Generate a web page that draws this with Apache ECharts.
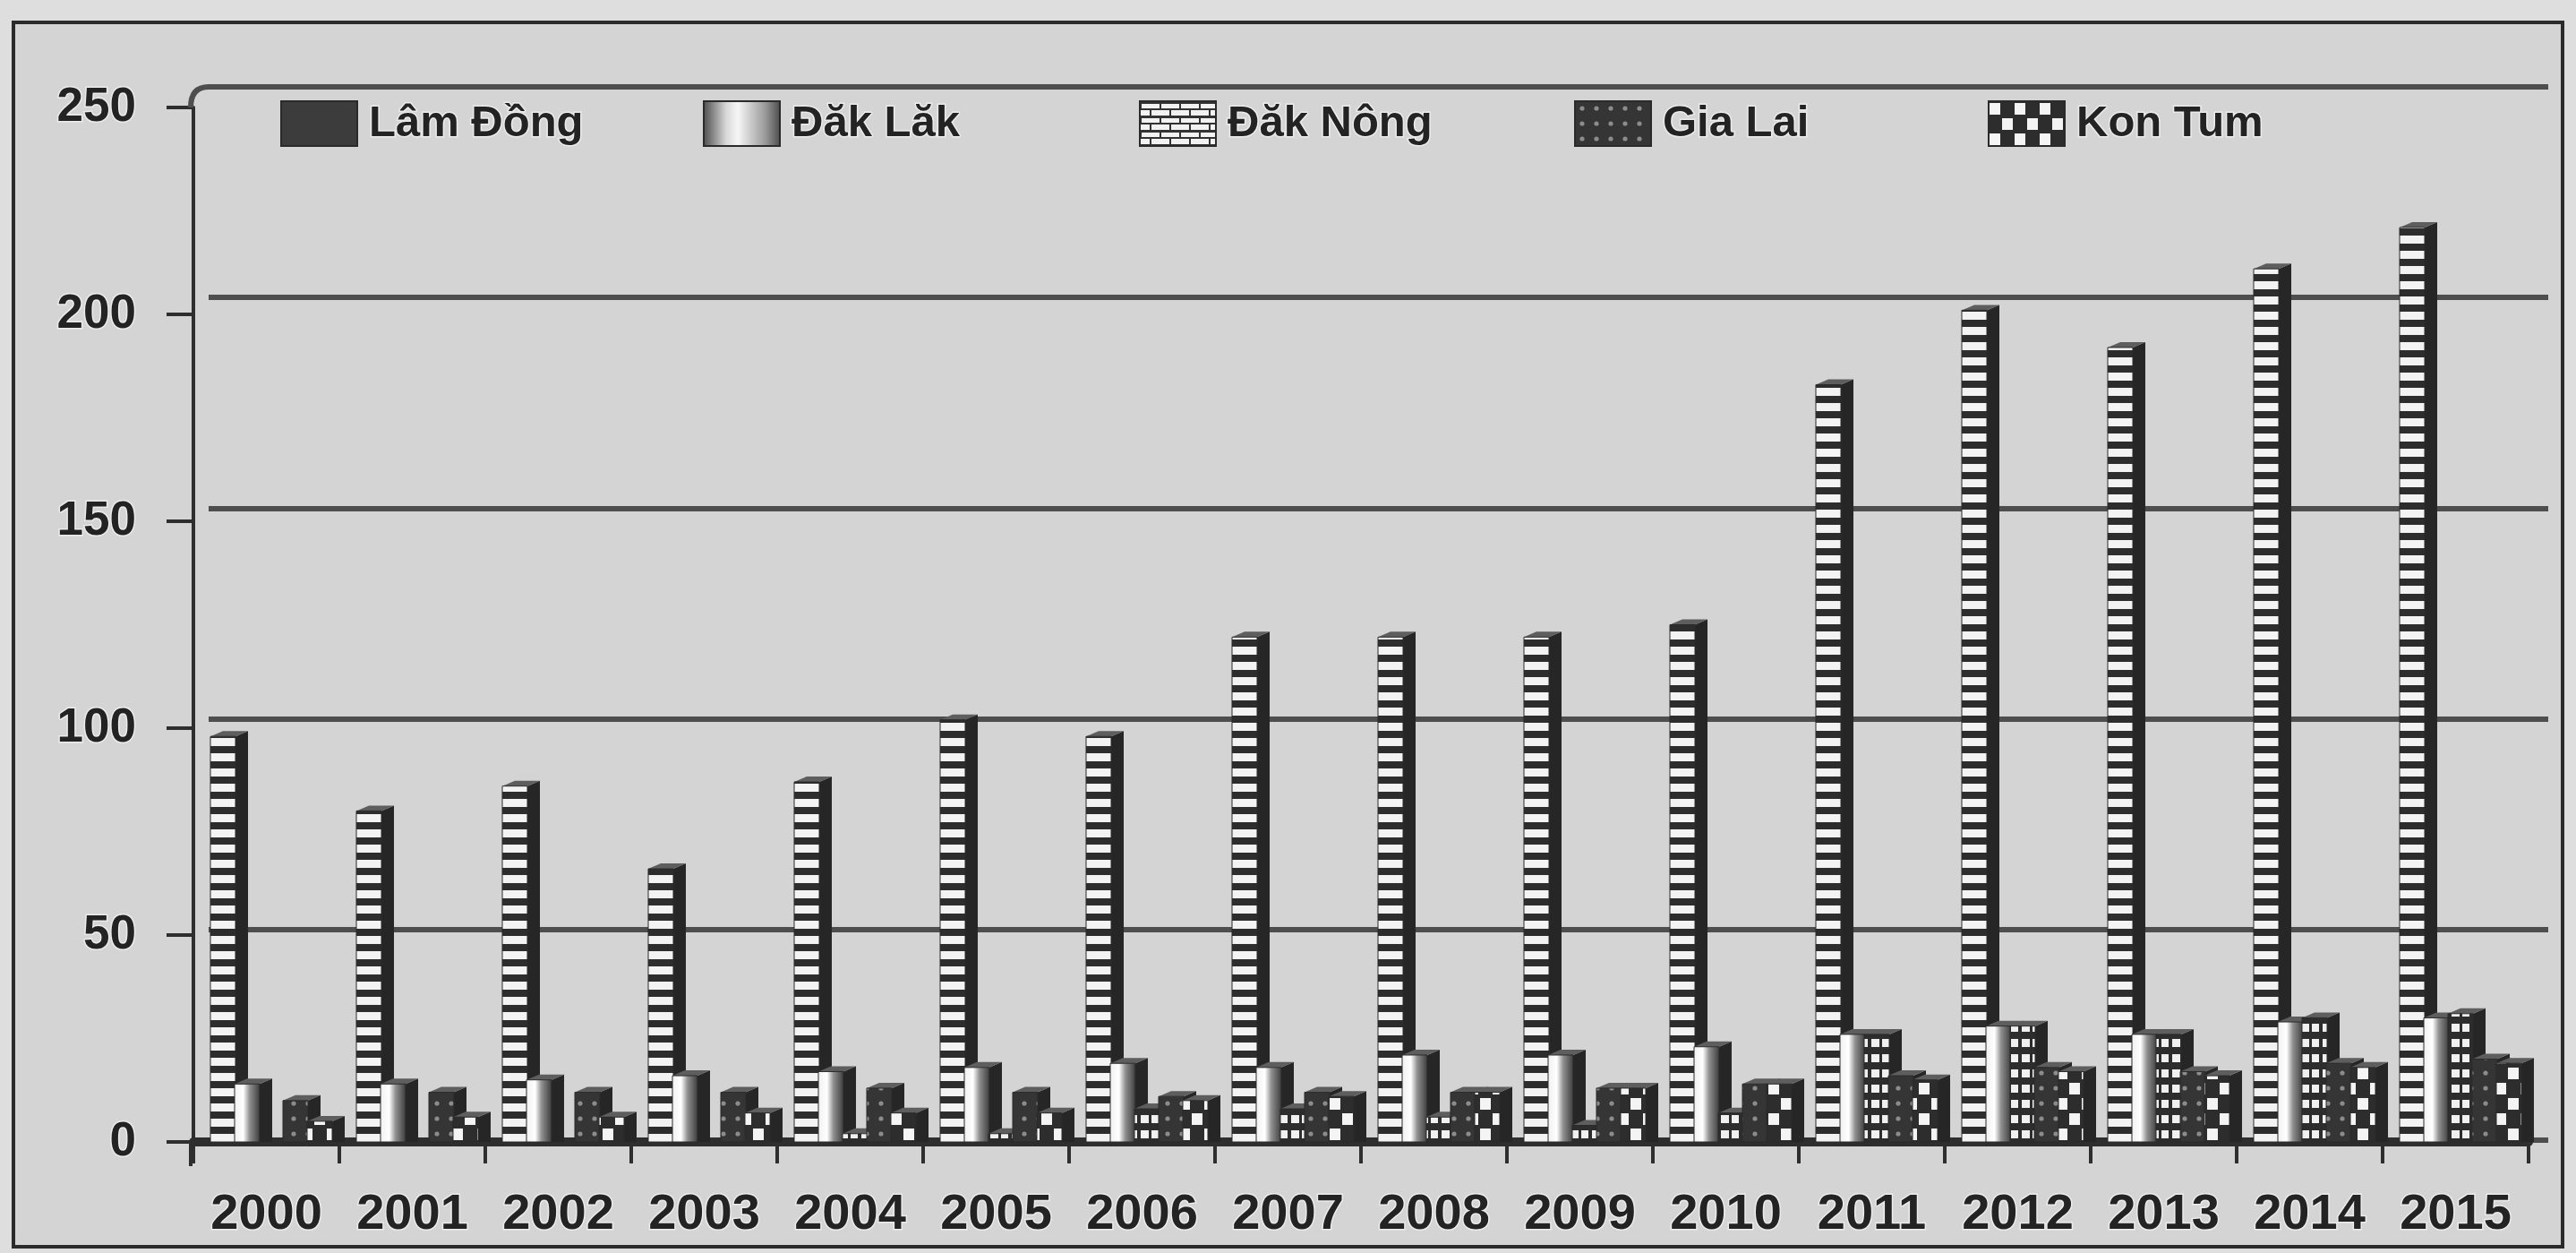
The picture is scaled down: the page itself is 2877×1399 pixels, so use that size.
<!DOCTYPE html>
<html>
<head>
<meta charset="utf-8">
<script src="https://cdn.jsdelivr.net/npm/echarts@6/dist/echarts.min.js"></script>
<style>
  html, body { margin: 0; padding: 0; background: #dedede; }
  #chart { width: 2877px; height: 1399px; }
</style>
</head>
<body>
<div id="chart"></div>
<script>
// Sản lượng theo tỉnh, Tây Nguyên 2000–2015
const years = ['2000', '2001', '2002', '2003', '2004', '2005', '2006', '2007',
               '2008', '2009', '2010', '2011', '2012', '2013', '2014', '2015'];
const seriesNames = ['Lâm Đồng', 'Đăk Lăk', 'Đăk Nông', 'Gia Lai', 'Kon Tum'];
const lamDong = [98, 80, 86, 66, 87, 102, 98, 122, 122, 122, 125, 183, 201, 192, 211, 221];
const dakLak  = [14, 14, 15, 16, 17, 18, 19, 18, 21, 21, 23, 26, 28, 26, 29, 30];
const dakNong = [0, 0, 0, 0, 2, 2, 8, 8, 6, 4, 7, 26, 28, 26, 30, 31];
const giaLai  = [10, 12, 12, 12, 13, 12, 11, 12, 12, 13, 14, 16, 18, 17, 19, 20];
const konTum  = [5, 6, 6, 7, 7, 7, 10, 11, 12, 13, 14, 15, 17, 16, 18, 19];
const yMin = 0, yMax = 250, yStep = 50;

const DARK = '#2d2d2d';
const FONT = "'Liberation Sans', Arial, sans-serif";

// Fill patterns drawn on small canvases
function makePattern(w, h, draw) {
  const c = document.createElement('canvas');
  c.width = w; c.height = h;
  draw(c.getContext('2d'), w, h);
  return { image: c, repeat: 'repeat' };
}
const stripes = makePattern(8, 17, (g) => {
  g.fillStyle = '#f3f3f3'; g.fillRect(0, 0, 8, 17);
  g.fillStyle = DARK; g.fillRect(0, 0, 8, 8);
});
const bricks = makePattern(24, 17, (g) => {
  g.fillStyle = DARK; g.fillRect(0, 0, 24, 17);
  g.fillStyle = '#f0f0f0';
  g.fillRect(2, 4, 9, 9); g.fillRect(14, 4, 8, 9);
});
const bricksLight = makePattern(22, 16, (g) => {
  g.fillStyle = '#f2f2f2'; g.fillRect(0, 0, 22, 16);
  g.fillStyle = '#333';
  g.fillRect(0, 0, 22, 3); g.fillRect(0, 8, 22, 2);
  g.fillRect(0, 0, 2, 8); g.fillRect(11, 8, 2, 8);
});
const dots = makePattern(16, 17, (g) => {
  g.fillStyle = '#353535'; g.fillRect(0, 0, 16, 17);
  g.fillStyle = '#8c8c8c';
  g.beginPath(); g.arc(8, 8, 2.6, 0, Math.PI * 2); g.fill();
});
const checker = makePattern(28, 34, (g) => {
  g.fillStyle = DARK; g.fillRect(0, 0, 28, 34);
  g.fillStyle = '#f4f4f4';
  g.fillRect(1, 2, 12, 13); g.fillRect(15, 19, 12, 13);
});
const dakLakFill = new echarts.graphic.LinearGradient(0, 0, 1, 0, [
  { offset: 0, color: '#f0f0f0' },
  { offset: 0.35, color: '#ffffff' },
  { offset: 0.6, color: '#8f8f8f' },
  { offset: 1, color: '#3a3a3a' }
]);
const dakLakLegend = new echarts.graphic.LinearGradient(0, 0, 1, 0, [
  { offset: 0, color: '#4a4a4a' },
  { offset: 0.3, color: '#d8d8d8' },
  { offset: 0.45, color: '#f6f6f6' },
  { offset: 0.8, color: '#9a9a9a' },
  { offset: 1, color: '#4a4a4a' }
]);

const seriesData = [lamDong, dakLak, dakNong, giaLai, konTum];
const faceFills = [stripes, dakLakFill, bricks, dots, checker];
const legendFills = ['#3c3c3c', dakLakLegend, bricksLight, dots, checker];
const legendLefts = [313, 785, 1272, 1758, 2220];

// Each column: a patterned front face plus a dark side and cap for depth
function columnRenderer(k) {
  return function (params, api) {
    const v = api.value(1);
    if (!v) return { type: 'group', children: [] };
    const cat = api.value(0);
    const top = api.coord([cat, v]);
    const base = api.coord([cat, 0]);
    const band = api.size([1, 0])[0];
    const u = band / 163;
    const w = 28 * u, dx = 14 * u, dy = 6;
    const x0 = base[0] - band / 2 + (19 + 27 * k) * u;
    const x1 = x0 + w;
    const yT = top[1], yB = base[1];
    return {
      type: 'group',
      children: [
        { type: 'polygon', shape: { points: [[x1, yT], [x1 + dx, yT - dy], [x1 + dx, yB], [x1, yB]] },
          style: { fill: '#262626' } },
        { type: 'polygon', shape: { points: [[x0, yT], [x0 + dx, yT - dy], [x1 + dx, yT - dy], [x1, yT]] },
          style: { fill: '#5e5e5e' } },
        { type: 'rect', shape: { x: x0, y: yT, width: w, height: yB - yT },
          style: { fill: faceFills[k], stroke: '#2a2a2a', lineWidth: 1 } }
      ]
    };
  };
}

const textBase = {
  color: '#232323', fontFamily: FONT, fontWeight: 'bold',
  textBorderColor: '#ececec', textBorderWidth: 3
};

const option = {
  backgroundColor: '#dedede',
  animation: false,
  graphic: [
    { type: 'rect', z: -10, shape: { x: 15, y: 25, width: 2847, height: 1367 },
      style: { fill: '#d4d4d4', stroke: '#2b2b2b', lineWidth: 4 } },
    { type: 'bezierCurve', z: 1,
      shape: { x1: 213, y1: 120, x2: 233, y2: 97, cpx1: 213, cpy1: 97 },
      style: { stroke: '#4e4e4e', lineWidth: 6, fill: null } },
    { type: 'line', z: 1, shape: { x1: 213, y1: 1275, x2: 213, y2: 1302 },
      style: { stroke: '#2e2e2e', lineWidth: 4 } }
  ],
  legend: seriesNames.map((n, i) => ({
    data: [{ name: n, icon: 'rect',
             itemStyle: { color: legendFills[i], borderColor: '#2a2a2a', borderWidth: 2 } }],
    left: legendLefts[i], top: 112, padding: 0,
    itemWidth: 85, itemHeight: 50,
    textStyle: Object.assign({ fontSize: 49, padding: [0, 0, 0, 8] }, textBase)
  })),
  grid: [
    // back wall carrying the gridlines
    { left: 233, right: 31, top: 97, bottom: 126 },
    // front plane with the columns and axes
    { left: 216, right: 53, top: 120, bottom: 124 }
  ],
  xAxis: [
    { gridIndex: 0, type: 'value', min: 0, max: 1, show: false },
    { gridIndex: 1, type: 'category', data: years, offset: 6,
      axisLine: { lineStyle: { color: '#2e2e2e', width: 10 } },
      axisTick: { show: true, length: 24, lineStyle: { color: '#2e2e2e', width: 4 } },
      axisLabel: Object.assign({ fontSize: 56, margin: 48 }, textBase),
      splitLine: { show: false } }
  ],
  yAxis: [
    { gridIndex: 0, type: 'value', min: yMin, max: yMax, interval: yStep,
      axisLine: { show: false }, axisTick: { show: false }, axisLabel: { show: false },
      splitLine: { show: true, lineStyle: { color: '#4e4e4e', width: 6 } } },
    { gridIndex: 1, type: 'value', min: yMin, max: yMax, interval: yStep,
      axisLine: { show: true, lineStyle: { color: '#2e2e2e', width: 4 } },
      axisTick: { show: true, length: 30, lineStyle: { color: '#2e2e2e', width: 4 } },
      axisLabel: Object.assign({ fontSize: 53, margin: 64 }, textBase),
      splitLine: { show: false } }
  ],
  series: seriesNames.map((n, k) => ({
    name: n,
    type: 'custom',
    xAxisIndex: 1, yAxisIndex: 1,
    itemStyle: { color: '#333' },
    renderItem: columnRenderer(k),
    encode: { x: 0, y: 1 },
    data: seriesData[k].map((v, i) => [i, v]),
    z: 2 + k
  }))
};

const chart = echarts.init(document.getElementById('chart'), null, { renderer: 'canvas' });
chart.setOption(option);
</script>
</body>
</html>
